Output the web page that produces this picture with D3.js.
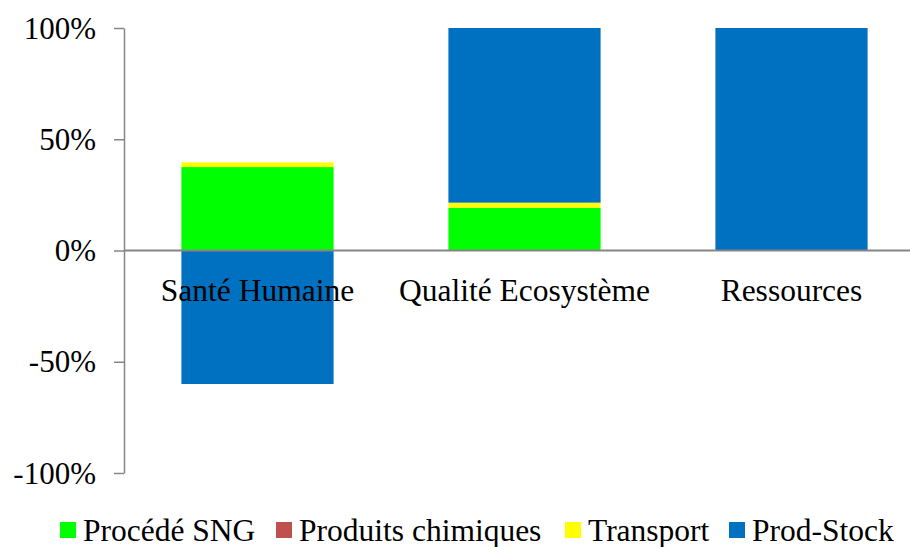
<!DOCTYPE html>
<html>
<head>
<meta charset="utf-8">
<script src="https://cdn.jsdelivr.net/npm/d3@7"></script>
<style>
  body { margin: 0; background: #fff; }
</style>
</head>
<body>
<div class="chart"></div>
<script>
const categories = ["Santé Humaine", "Qualité Ecosystème", "Ressources"];
const seriesNames = ["Procédé SNG", "Produits chimiques", "Transport", "Prod-Stock"];
const seriesColors = ["#00ff00", "#c0504d", "#ffff00", "#0070c0"];
// values in %
const procedeSNG = [37.5, 19.2, 0];
const produitsChimiques = [0, 0, 0];
const transport = [2.1, 2.3, 0];
const prodStock = [-60, 78.5, 100];
const yTicks = [-100, -50, 0, 50, 100];

const serif = "'Liberation Serif', 'Times New Roman', Times, serif";

function chart() {
  let width = 910,
    height = 547;

  let seriesValues = [procedeSNG, produitsChimiques, transport, prodStock];
  let rows = categories.map((c, i) => {
    let row = { cat: c };
    seriesNames.forEach((s, j) => (row[s] = seriesValues[j][i]));
    return row;
  });

  let stacked = d3
    .stack()
    .keys(seriesNames)
    .offset(d3.stackOffsetDiverging)(rows);

  let xScale = d3
    .scaleBand()
    .domain(categories)
    .range([124, 925])
    .paddingInner(0.43)
    .paddingOuter(0.215);

  let yScale = d3.scaleLinear().domain([-100, 100]).range([473, 28]);

  let svg = d3
    .select(".chart")
    .append("svg")
    .attr("width", width)
    .attr("height", height);

  svg
    .selectAll("g.series")
    .data(stacked)
    .enter()
    .append("g")
    .attr("class", "series")
    .attr("fill", (d, i) => seriesColors[i])
    .selectAll("rect")
    .data((d) => d)
    .enter()
    .append("rect")
    .attr("x", (d) => xScale(d.data.cat))
    .attr("width", xScale.bandwidth())
    .attr("y", (d) => yScale(Math.max(d[0], d[1])))
    .attr("height", (d) => Math.abs(yScale(d[0]) - yScale(d[1])));

  // y axis
  let yAxis = d3
    .axisLeft(yScale)
    .tickValues(yTicks)
    .tickSize(10)
    .tickSizeOuter(0)
    .tickPadding(18)
    .tickFormat((d) => d + "%");

  let yg = svg
    .append("g")
    .attr("transform", "translate(124,0)")
    .call(yAxis)
    .attr("font-family", serif);
  yg.select(".domain").attr("stroke", "#868686").attr("stroke-width", 1.5);
  yg.selectAll(".tick line").attr("stroke", "#868686").attr("stroke-width", 1.5);
  yg.selectAll(".tick text")
    .style("font-size", "31px")
    .attr("fill", "#000")
    .attr("dy", "0.33em");

  // zero line
  svg
    .append("line")
    .attr("x1", 124)
    .attr("x2", width)
    .attr("y1", yScale(0))
    .attr("y2", yScale(0))
    .attr("stroke", "#868686")
    .attr("stroke-width", 2);

  // category labels
  svg
    .selectAll("text.cat")
    .data(categories)
    .enter()
    .append("text")
    .attr("class", "cat")
    .attr("x", (d) => xScale(d) + xScale.bandwidth() / 2)
    .attr("y", 301)
    .attr("text-anchor", "middle")
    .style("font-family", serif)
    .style("font-size", "31.5px")
    .text((d) => d);

  // legend
  let legendX = [60, 276, 565, 729];
  let legend = svg
    .append("g")
    .selectAll("g")
    .data(seriesNames)
    .enter()
    .append("g")
    .attr("transform", (d, i) => "translate(" + legendX[i] + ",522)");

  legend
    .append("rect")
    .attr("width", 16)
    .attr("height", 16)
    .attr("fill", (d, i) => seriesColors[i]);

  legend
    .append("text")
    .attr("x", 23)
    .attr("y", 19)
    .style("font-family", serif)
    .style("font-size", "31.5px")
    .text((d) => d);
}

chart();
</script>
</body>
</html>
